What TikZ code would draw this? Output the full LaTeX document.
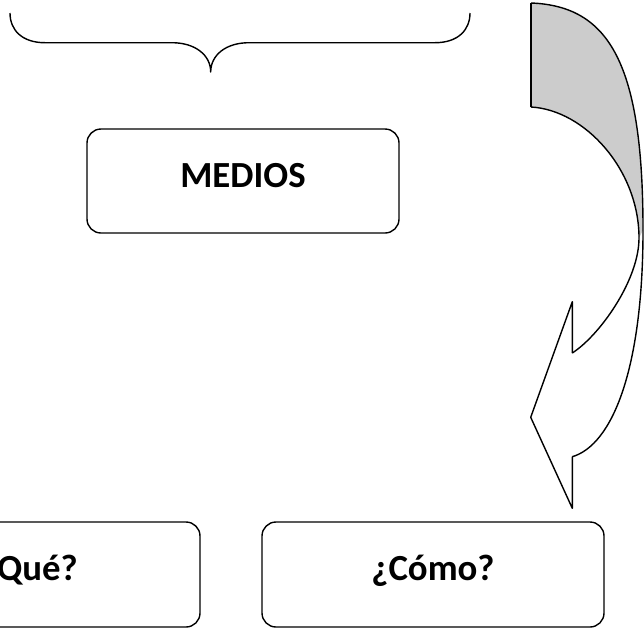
\documentclass[tikz,border=0pt]{standalone}
\usepackage{fontspec}
\setmainfont{Carlito}
\begin{document}
\begin{tikzpicture}[x=1pt,y=-1pt,
  box/.style={draw, line width=1.4pt, rounded corners=14pt,
    font=\fontsize{36.8}{44}\selectfont\bfseries, inner sep=0pt,
    text height=24pt, text depth=12pt},
  ln/.style={line width=1.4pt, line join=round}]
\clip (0,0) rectangle (644,630);
% brace
\coordinate (bl) at (10,13);
\coordinate (br) at (470,13);
\coordinate (bt) at (210.7,72);
\draw[ln] (bl) .. controls (10,30) and (22,42.7) .. (45,42.7) -- (172,42.7)
  .. controls (195,42.7) and (210.7,55) .. (bt)
  .. controls (210.7,55) and (226,42.7) .. (249,42.7) -- (435,42.7)
  .. controls (458,42.7) and (470,30) .. (br);
% boxes
\node[box, minimum width=312pt, minimum height=104pt] (medios) at (243,181) {MEDIOS};
\node[box, minimum width=342pt, minimum height=105pt] (que) at (29,574.5) {¿Qué?};
\node[box, minimum width=342pt, minimum height=105pt] (como) at (433,574.5) {¿Cómo?};
% curved arrow
\coordinate (ot) at (531,3);
\coordinate (om) at (643,230);
\coordinate (ob) at (572.3,456.7);
\coordinate (it) at (531,107);
\coordinate (im) at (639,238);
\coordinate (ib) at (572.3,353);
\coordinate (hu) at (572.3,301.7);
\coordinate (tip) at (530.7,417.3);
\coordinate (hl) at (572.3,508.3);
% back face (grey)
\fill[black!20] (ot) .. controls (610,6) and (643,65) .. (om) -- (im)
  .. controls (639,170) and (585,110) .. (it) -- cycle;
% outlines
\draw[ln] (ot) .. controls (610,6) and (643,65) .. (om)
  .. controls (643,370) and (612,445) .. (ob);
\draw[ln] (it) .. controls (585,110) and (639,170) .. (im)
  .. controls (639,280) and (600,335) .. (ib);
\draw[ln] (ot) -- (it);
\draw[ln] (ib) -- (hu) -- (tip) -- (hl) -- (ob);
\end{tikzpicture}
\end{document}
